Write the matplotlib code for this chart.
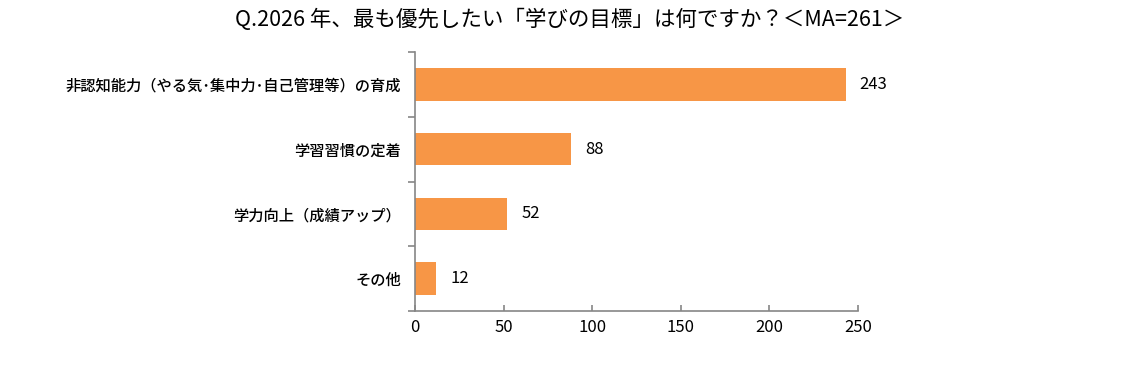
import matplotlib
matplotlib.use("Agg")
import matplotlib.pyplot as plt
import numpy as np

plt.rcParams['font.family'] = ['Noto Sans CJK JP', 'DejaVu Sans']

# ---- data ----
categories = [
    "非認知能力（やる気･集中力･自己管理等）の育成",
    "学習習慣の定着",
    "学力向上（成績アップ）",
    "その他",
]
values = [243, 88, 52, 12]
xticks = [0, 50, 100, 150, 200, 250]

title = "Q.2026 年、最も優先したい「学びの目標」は何ですか？＜MA=261＞"

bar_color = "#F79646"
axis_color = "#868686"

fig = plt.figure(figsize=(11.47, 3.69), dpi=100)
ax = fig.add_axes([0.362, 0.157, 0.386, 0.702])

y = np.arange(len(categories))
ax.barh(y, values, height=0.5, color=bar_color)

ax.set_ylim(len(categories) - 0.5, -0.5)
ax.set_xlim(0, 250)

# value labels
for yi, v in zip(y, values):
    ax.text(v + 8, yi, str(v), va="center", ha="left", fontsize=12)

# y axis: labels at centres, ticks at boundaries
ax.set_yticks(y)
ax.set_yticklabels(categories, fontsize=11, fontweight="medium")
ax.tick_params(axis="y", which="major", length=0, pad=10)
ax.set_yticks(np.arange(-0.5, len(categories), 1.0), minor=True)
ax.tick_params(axis="y", which="minor", length=5, color=axis_color, width=1.2)

ax.set_xticks(xticks)
ax.tick_params(axis="x", direction="in", length=4, color=axis_color, width=1.2,
               labelsize=12, pad=6)

for s in ["top", "right"]:
    ax.spines[s].set_visible(False)
for s in ["left", "bottom"]:
    ax.spines[s].set_color(axis_color)
    ax.spines[s].set_linewidth(1.2)

fig.text(0.497, 0.945, title, ha="center", va="center", fontsize=15.5)

fig.savefig("out.png", dpi=100)
